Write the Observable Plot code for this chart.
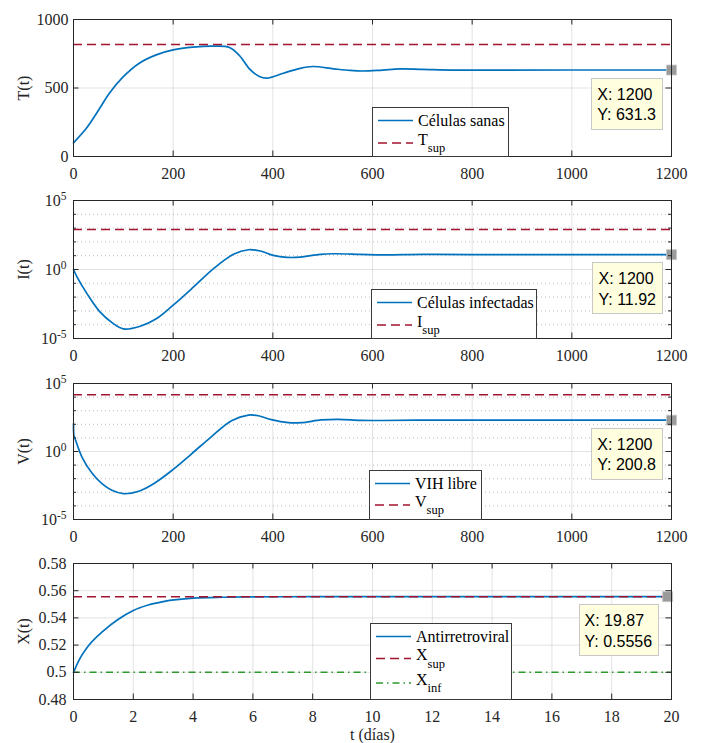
<!DOCTYPE html>
<html><head><meta charset="utf-8">
<script src="https://cdn.jsdelivr.net/npm/d3@7"></script>
<script src="https://cdn.jsdelivr.net/npm/@observablehq/plot@0.6"></script>
<style>
html,body{margin:0;padding:0;background:#fff;overflow:hidden}
#root{position:relative;width:703px;height:743px;font-family:"Liberation Serif","Times New Roman",serif;}
.panel{position:absolute;left:0}
.panel svg text{font-family:"Liberation Serif","Times New Roman",serif;}
.legend{position:absolute;background:#fff;border:1px solid #3a3a3a;box-sizing:border-box}
.legend svg{display:block}
.tip{position:absolute;background:#ffffe0;border:1px solid #c8c8c8;box-sizing:border-box;font-family:"Liberation Sans",Arial,sans-serif;font-size:16px;line-height:20.5px;padding:6px 6px 3px 5px;color:#000;white-space:nowrap}
</style></head><body><div id="root"></div>
<script>
// ---------------- data ----------------
const tT   = [0, 25, 52, 72, 99, 132, 166, 200, 240, 280, 313, 333, 353, 373, 388, 421, 453, 480, 522, 555, 581, 620, 655, 700, 760, 850, 1000, 1200];
const valT = [100, 202, 348, 462, 579, 681, 742, 778, 798, 805, 796, 737, 640, 584, 572, 608, 642, 657, 640, 628, 624, 631, 639, 636, 631, 631, 631.3, 631.3];

const tI   = [0, 7, 27, 53, 80, 100, 134, 167, 200, 241, 281, 321, 351, 375, 401, 428, 455, 495, 522, 575, 620, 700, 800, 1200];
const valI = [1, 0.29, 0.0178, 8.5e-4, 1.2e-4, 5.0e-5, 7.8e-5, 2.8e-4, 2.6e-3, 0.054, 1.15, 12.6, 27, 22, 10.5, 7.6, 7.9, 12.6, 13.8, 12.6, 11.5, 12.3, 11.9, 11.92];

const tV   = [0, 1, 3, 17, 37, 57, 77, 100, 131, 164, 200, 237, 277, 317, 351, 371, 397, 431, 457, 497, 531, 577, 620, 700, 800, 1200];
const valV = [110, 14, 9, 0.39, 0.026, 4.3e-3, 1.4e-3, 7.9e-4, 1.2e-3, 5.1e-3, 0.048, 0.68, 12.6, 186, 480, 427, 219, 132, 132, 209, 234, 195, 190, 205, 200, 200.8];

const tX   = [0, 0.2, 0.5, 1, 1.5, 2, 2.5, 3, 4, 5, 6, 8, 12, 19.87];
const valX = [0.5, 0.5095, 0.5195, 0.5305, 0.5390, 0.5455, 0.5495, 0.5520, 0.5545, 0.5552, 0.5555, 0.5556, 0.5556, 0.5556];

const T_SUP = 817, I_SUP = 800, V_SUP = 15000, X_SUP = 0.5556, X_INF = 0.5;

const xTicksDays = [0, 200, 400, 600, 800, 1000, 1200];
const xTicksX    = [0, 2, 4, 6, 8, 10, 12, 14, 16, 18, 20];
const yTicksT    = [0, 500, 1000];
const yTicksLog  = [1e-5, 1, 1e5];
const yMinorLog  = [1e-4, 1e-3, 1e-2, 1e-1, 10, 100, 1e3, 1e4];
const yTicksX    = [0.48, 0.5, 0.52, 0.54, 0.56, 0.58];

const yLabels = ["T(t)", "I(t)", "V(t)", "X(t)"];
const xLabel = "t (días)";
const legendMain = ["Células sanas", "Células infectadas", "VIH libre", "Antirretroviral"];
const legendSupBase = ["T", "I", "V", "X"];

// ---------------- style ----------------
const W = 703, ML = 73, MR = 32;
const FONT = "Liberation Serif, Times New Roman, serif";
const BLUE = "#0072BD", RED = "#A2142F", GREEN = "#2E9A2E", AX = "#262626";
const DASH = "9,5", DASHDOT = "7,4,1.5,4";
const NS = "http://www.w3.org/2000/svg";
const root = document.getElementById("root");

function zip(ts, vs) { return ts.map((t, i) => ({t, v: vs[i]})); }

function renderPanel(cfg) {
  const {top, height, mt, mb, xDomain, xTicks, yType, yDomain, yTicks, yMinor, yFmt, yPad,
         yLabel, xLab, data, refs, legend, tipFmt, curve} = cfg;
  const plotW = W - ML - MR, plotH = height - mt - mb;
  const last = data[data.length - 1];
  const marks = [
    Plot.gridY({ticks: yTicks, stroke: AX, strokeOpacity: 0.13}),
    Plot.gridX({ticks: xTicks, stroke: AX, strokeOpacity: 0.13})
  ];
  if (yMinor) marks.push(Plot.gridY({ticks: yMinor, stroke: AX, strokeOpacity: 0.3, strokeDasharray: "1,3"}));
  marks.push(Plot.line(data, {x: "t", y: "v", curve, stroke: BLUE, strokeWidth: 1.7}));
  for (const r of refs) marks.push(Plot.ruleY([r.value], {stroke: r.stroke, strokeDasharray: r.dash, strokeWidth: 1.6}));
  marks.push(Plot.dot([last], {x: "t", y: "v", symbol: "square", r: 5.6, fill: "#9a9a9a", stroke: "#c4c4c4", strokeWidth: 0.8}));
  marks.push(Plot.frame({stroke: AX, strokeWidth: 1}));
  const tk = {stroke: AX, strokeWidth: 1};
  marks.push(Plot.tickY(yTicks, {y: d => d, insetRight: plotW - 5.5, ...tk}));
  marks.push(Plot.tickY(yTicks, {y: d => d, insetLeft: plotW - 5.5, ...tk}));
  if (yMinor) {
    marks.push(Plot.tickY(yMinor, {y: d => d, insetRight: plotW - 3, ...tk}));
    marks.push(Plot.tickY(yMinor, {y: d => d, insetLeft: plotW - 3, ...tk}));
  }
  marks.push(Plot.tickX(xTicks, {x: d => d, insetTop: plotH - 5.5, ...tk}));
  marks.push(Plot.tickX(xTicks, {x: d => d, insetBottom: plotH - 5.5, ...tk}));
  marks.push(Plot.axisX({ticks: xTicks, tickSize: 0, tickPadding: 11, tickFormat: d => String(d), label: xLab || null,
    labelAnchor: "center", labelArrow: "none", labelOffset: 40, fontSize: 16, fontFamily: FONT}));
  marks.push(Plot.axisY({ticks: yTicks, tickSize: 0, tickPadding: yPad, tickFormat: yFmt, label: yLabel,
    labelAnchor: "center", labelArrow: "none", labelOffset: 56, fontSize: 16, fontFamily: FONT}));

  const svg = Plot.plot({
    width: W, height, marginLeft: ML, marginRight: MR, marginTop: mt, marginBottom: mb,
    x: {domain: xDomain},
    y: {type: yType, domain: yDomain},
    style: {fontFamily: FONT, fontSize: "16px", color: AX, background: "transparent", overflow: "visible"},
    marks
  });
  const wrap = document.createElement("div");
  wrap.className = "panel";
  wrap.style.top = top + "px";
  wrap.appendChild(svg);
  root.appendChild(wrap);

  // superscript exponents on log tick labels
  svg.querySelectorAll('g[aria-label="y-axis tick label"] text').forEach(t => {
    const m = t.textContent.match(/^10\^(-?\d+)$/);
    if (!m) return;
    t.textContent = "10";
    const ts = document.createElementNS(NS, "tspan");
    ts.setAttribute("dy", "-0.45em");
    ts.setAttribute("font-size", "11.5");
    ts.textContent = m[1];
    t.appendChild(ts);
  });

  // legend box
  const lg = document.createElement("div");
  lg.className = "legend";
  const frameBottom = top + height - mb;
  lg.style.left = legend.left + "px";
  lg.style.top = (frameBottom - legend.h) + "px";
  lg.style.width = legend.w + "px";
  lg.style.height = (legend.h + 1) + "px";
  const ls = document.createElementNS(NS, "svg");
  ls.setAttribute("width", legend.w - 2);
  ls.setAttribute("height", legend.h - 1);
  legend.items.forEach(it => {
    const ln = document.createElementNS(NS, "line");
    ln.setAttribute("x1", 5); ln.setAttribute("x2", 40);
    ln.setAttribute("y1", it.y); ln.setAttribute("y2", it.y);
    ln.setAttribute("stroke", it.stroke); ln.setAttribute("stroke-width", 1.6);
    if (it.dash) ln.setAttribute("stroke-dasharray", it.dash);
    ls.appendChild(ln);
    const tx = document.createElementNS(NS, "text");
    tx.setAttribute("x", 45);
    tx.setAttribute("font-family", FONT);
    tx.setAttribute("font-size", 16);
    tx.setAttribute("fill", "#000");
    if (it.sub) {
      tx.setAttribute("y", it.y + 1.5);
      tx.textContent = it.label;
      const sb = document.createElementNS(NS, "tspan");
      sb.setAttribute("dy", 7.8);
      sb.setAttribute("font-size", 12.5);
      sb.textContent = it.sub;
      tx.appendChild(sb);
    } else {
      tx.setAttribute("y", it.y + 5);
      tx.textContent = it.label;
    }
    ls.appendChild(tx);
  });
  lg.appendChild(ls);
  root.appendChild(lg);

  // data tip
  const px = svg.scale("x").apply(last.t), py = svg.scale("y").apply(last.v);
  const tip = document.createElement("div");
  tip.className = "tip";
  tip.style.right = (W - (px - 8)) + "px";
  tip.style.top = (top + py + 8) + "px";
  tip.innerHTML = "X: " + tipFmt.x(last.t) + "<br>Y: " + tipFmt.y(last.v);
  root.appendChild(tip);
}

const logFmt = d => "10^" + Math.round(Math.log10(d));

renderPanel({
  top: 0, height: 181, mt: 19, mb: 25,
  xDomain: [0, 1200], xTicks: xTicksDays, curve: "catmull-rom",
  yType: "linear", yDomain: [0, 1000], yTicks: yTicksT, yFmt: d => String(d), yPad: 5,
  yLabel: yLabels[0], data: zip(tT, valT),
  refs: [{value: T_SUP, stroke: RED, dash: DASH}],
  legend: {left: 372, w: 137, h: 49, items: [
    {label: legendMain[0], stroke: BLUE, y: 12.5},
    {label: legendSupBase[0], sub: "sup", stroke: RED, dash: DASH, y: 35}]},
  tipFmt: {x: d => String(d), y: d => d.toFixed(1)}
});

renderPanel({
  top: 181, height: 182, mt: 19, mb: 25,
  xDomain: [0, 1200], xTicks: xTicksDays, curve: "catmull-rom",
  yType: "log", yDomain: [1e-5, 1e5], yTicks: yTicksLog, yMinor: yMinorLog, yFmt: logFmt, yPad: 7,
  yLabel: yLabels[1], data: zip(tI, valI),
  refs: [{value: I_SUP, stroke: RED, dash: DASH}],
  legend: {left: 371, w: 166, h: 49, items: [
    {label: legendMain[1], stroke: BLUE, y: 12.5},
    {label: legendSupBase[1], sub: "sup", stroke: RED, dash: DASH, y: 35}]},
  tipFmt: {x: d => String(d), y: d => d.toFixed(2)}
});

renderPanel({
  top: 363, height: 182, mt: 20, mb: 26,
  xDomain: [0, 1200], xTicks: xTicksDays, curve: "catmull-rom",
  yType: "log", yDomain: [1e-5, 1e5], yTicks: yTicksLog, yMinor: yMinorLog, yFmt: logFmt, yPad: 7,
  yLabel: yLabels[2], data: zip(tV, valV),
  refs: [{value: V_SUP, stroke: RED, dash: DASH}],
  legend: {left: 369, w: 113, h: 49, items: [
    {label: legendMain[2], stroke: BLUE, y: 12.5},
    {label: legendSupBase[2], sub: "sup", stroke: RED, dash: DASH, y: 34}]},
  tipFmt: {x: d => String(d), y: d => d.toFixed(1)}
});

renderPanel({
  top: 545, height: 198, mt: 18, mb: 44,
  xDomain: [0, 20], xTicks: xTicksX, curve: "monotone-x",
  yType: "linear", yDomain: [0.48, 0.58], yTicks: yTicksX, yFmt: d => String(+d.toFixed(2)), yPad: 7,
  yLabel: yLabels[3], xLab: xLabel, data: zip(tX, valX),
  refs: [{value: X_SUP, stroke: RED, dash: DASH}, {value: X_INF, stroke: GREEN, dash: DASHDOT}],
  legend: {left: 370, w: 142, h: 76, items: [
    {label: legendMain[3], stroke: BLUE, y: 12.5},
    {label: legendSupBase[3], sub: "sup", stroke: RED, dash: DASH, y: 34.5},
    {label: legendSupBase[3], sub: "inf", stroke: GREEN, dash: DASHDOT, y: 59}]},
  tipFmt: {x: d => String(d), y: d => d.toFixed(4)}
});
</script>
</body></html>
